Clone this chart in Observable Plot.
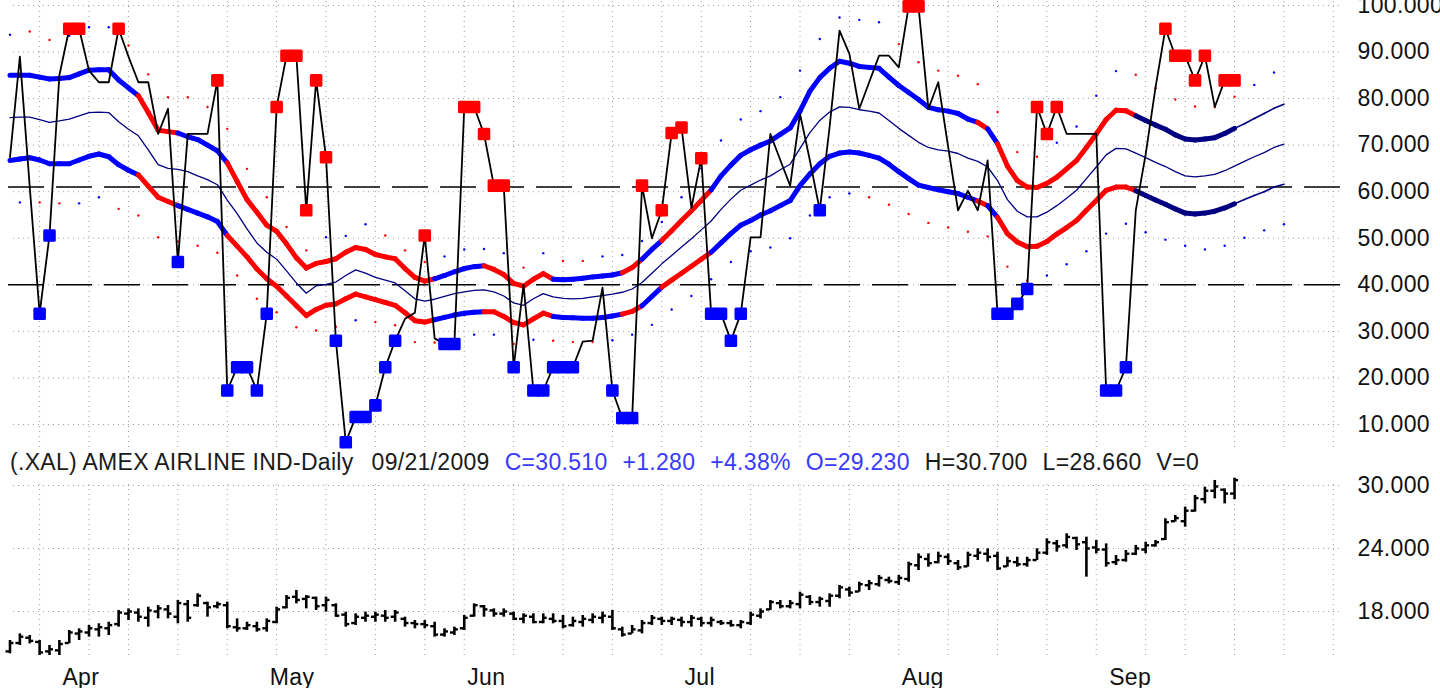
<!DOCTYPE html>
<html><head><meta charset="utf-8">
<script src="https://cdn.jsdelivr.net/npm/d3@7"></script>
<script src="https://cdn.jsdelivr.net/npm/@observablehq/plot@0.6"></script>
<style>
html,body{margin:0;padding:0;background:#fff;}
#wrap{position:relative;width:1440px;height:688px;overflow:hidden;font-family:"Liberation Sans",Arial,sans-serif;}
#top{position:absolute;left:0;top:0;}
#bot{position:absolute;left:0;top:450px;}
#info{position:absolute;left:10px;top:449px;font-size:23px;letter-spacing:0.3px;white-space:nowrap;line-height:26px;}
#info span{margin-right:15px;}
#info span.first{margin-right:18px;}
</style></head><body>
<div id="wrap"><div id="top"></div><div id="bot"></div><div id="info"></div></div>
<script>
// ---------- DATA ----------
// oscillator (daily, trading-day index 0 = 03/25/2009 ... 124 = 09/21/2009)
const osc = [67.4,89.0,61.0,33.8,50.6,85.0,95.0,95.0,86.0,83.5,
 83.5,95.0,89.0,83.5,83.5,72.4,77.8,44.9,72.4,72.4,
 72.4,83.9,17.3,22.3,22.3,17.3,33.8,78.2,89.2,89.2,
 56.0,83.9,67.4,28.0,6.2,11.6,11.6,14.1,22.3,28.0,
 32.7,34.0,50.6,28.5,27.3,27.3,78.2,78.2,72.4,61.3,
 61.3,22.3,40.0,17.3,17.3,22.3,22.3,22.3,27.8,28.0,
 39.4,17.3,11.4,11.4,61.3,50.0,56.0,72.6,73.8,56.5,
 67.2,33.8,33.8,28.0,33.8,50.2,50.2,72.4,66.8,61.3,
 76.7,66.7,56.0,74.0,94.6,89.6,77.8,83.5,89.2,89.2,
 86.7,99.8,99.8,77.8,83.5,69.6,56.0,60.2,56.0,66.7,
 33.8,33.8,35.9,39.1,78.2,72.4,78.2,72.4,72.4,72.4,
 72.4,17.3,17.3,22.3,56.0,68.0,82.4,95.0,89.2,89.2,
 83.9,89.2,78.2,83.9,83.9];
const redIdx = [6,7,11,21,27,28,29,30,31,32,42,46,47,48,49,50,64,66,67,68,70,91,92,104,105,106,117,118,119,120,121,123,124];
const blueIdx = [3,4,17,22,23,24,25,26,33,34,35,36,37,38,39,44,45,51,53,54,55,56,57,61,62,63,71,72,73,74,82,100,101,102,103,111,112,113];

// bands (index 0..129, projected 5 days past last bar)
const upperBand = [85.0,85.0,85.0,84.6,84.2,84.3,84.5,85.3,86.1,86.2,
 86.2,84.0,82.3,80.6,77.0,73.2,72.9,72.6,71.8,71.2,
 70.0,68.8,66.2,62.2,58.3,55.6,52.8,51.5,48.8,45.8,
 43.6,44.6,45.0,45.6,47.0,48.0,47.6,46.5,46.0,45.6,
 43.5,41.6,40.8,41.3,42.0,42.8,43.5,43.9,44.1,43.3,
 42.2,40.3,39.7,41.2,42.4,41.2,41.1,41.2,41.4,41.7,
 41.9,42.1,42.6,43.7,45.5,47.6,49.5,51.6,53.8,55.9,
 58.1,60.4,63.4,65.7,67.8,69.0,70.0,70.9,72.3,73.7,
 77.3,81.6,84.5,86.5,88.0,87.6,86.9,86.7,86.5,84.6,
 82.8,81.3,79.8,78.1,77.6,77.3,76.8,75.6,74.9,73.5,
 70.3,65.5,62.4,61.0,60.9,61.8,63.1,64.9,66.7,69.5,
 72.4,75.5,77.5,77.4,76.3,75.3,74.3,73.4,72.2,71.3,
 71.1,71.3,71.6,72.5,73.6,74.6,75.7,76.8,77.9,78.8];
const lowerBand = [66.7,67.0,67.3,66.8,66.0,66.0,66.0,66.8,67.6,68.1,
 67.5,65.8,64.6,63.6,61.2,58.8,57.9,57.0,56.2,55.4,
 54.6,53.6,50.6,48.3,46.0,43.4,41.3,39.7,37.6,35.5,
 33.4,34.7,35.6,35.9,37.0,38.0,37.4,36.8,36.2,35.6,
 34.0,32.3,32.0,32.5,33.0,33.5,33.9,34.1,34.2,34.2,
 33.2,31.9,31.4,32.7,33.9,33.2,33.0,32.9,32.8,32.8,
 33.0,33.3,33.7,34.3,35.5,37.5,39.5,41.0,42.5,44.0,
 45.5,47.0,49.0,51.0,52.8,53.8,55.0,55.9,57.0,58.1,
 61.3,63.8,66.0,67.6,68.3,68.5,68.3,67.8,67.2,65.9,
 64.3,62.8,61.4,60.9,60.4,60.0,59.6,58.8,58.0,57.0,
 54.5,51.0,49.2,48.2,48.3,49.3,50.9,52.3,53.8,56.0,
 58.1,60.3,61.0,61.0,60.2,59.2,58.2,57.3,56.3,55.4,
 55.2,55.4,55.8,56.5,57.4,58.3,59.2,60.0,61.0,61.6];
const midLine = [75.9,76.0,76.0,75.5,74.9,75.2,75.6,76.3,77.0,77.1,
 77.0,75.0,73.4,72.0,69.0,65.8,65.0,64.8,64.3,63.4,
 62.6,61.5,58.2,55.3,52.0,49.0,47.0,45.5,43.0,40.4,
 38.2,39.8,40.1,40.6,42.0,43.2,42.5,41.6,41.0,40.4,
 38.7,37.0,36.5,36.9,37.5,38.1,38.5,38.8,38.9,38.5,
 37.6,36.1,35.6,37.0,38.1,37.4,37.1,37.0,37.1,37.4,
 37.7,38.0,38.4,39.1,40.5,42.5,44.5,46.3,48.1,49.9,
 51.8,53.7,56.2,58.4,60.3,61.4,62.5,63.4,64.7,65.9,
 69.3,72.7,75.3,77.1,78.2,78.1,77.6,77.3,76.9,75.3,
 73.6,72.1,70.6,69.5,69.0,68.7,68.2,67.2,66.5,65.3,
 62.4,58.3,55.8,54.6,54.6,55.6,57.0,58.6,60.3,62.8,
 65.3,67.9,69.3,69.2,68.3,67.3,66.3,65.4,64.3,63.4,
 63.2,63.4,63.7,64.5,65.5,66.5,67.5,68.4,69.5,70.2];
// band state runs [from, to, state]
const bandRuns = [[0,13,"bull"],[13,17,"bear"],[17,22,"bull"],[22,43,"bear"],[43,48,"bull"],
 [48,55,"bear"],[55,62,"bull"],[62,64,"bear"],[64,66,"bull"],[66,71,"bear"],[71,98,"bull"],
 [98,99,"bear"],[99,100,"bull"],[100,114,"bear"],[114,124,"flat"],[124,129,"proj"]];

// small dots: upper (even indices 0..128), lower (odd indices 1..129)
const upperTiny = [93.7,94.4,92.6,93.5,95.3,95.3,91.4,85.2,80.3,80.3,
 78.2,73.5,64.9,58.8,52.4,47.4,50.2,50.5,53.0,50.6,
 47.4,44.9,46.1,47.6,47.7,46.8,43.7,46.8,45.1,45.1,
 46.1,46.4,49.4,53.5,58.8,65.0,71.0,75.5,77.3,80.3,
 86.0,92.8,97.4,96.9,96.4,91.7,87.8,86.0,84.9,83.1,
 77.1,68.5,67.5,70.5,74.0,80.6,85.9,85.1,82.2,79.8,
 78.3,78.2,80.4,82.9,85.6];
const upperTinyState = "brrbbbrrrrrrrrrrbbbrrrbbbbrbrrbbbbbbbbbbbbbbbrrrrrrrrbbbbrrrrrrbb";
const lowerTiny = [57.7,57.7,57.5,57.5,58.8,56.3,54.9,50.2,49.3,48.4,
 46.9,42.0,37.0,34.1,30.9,30.2,31.0,32.4,32.0,31.3,
 27.7,27.6,28.2,29.3,29.3,27.3,28.2,28.0,27.7,27.7,
 28.1,29.3,31.4,34.7,37.6,41.2,44.9,47.2,48.0,50.0,
 54.9,58.8,59.6,58.8,57.2,55.2,53.3,52.3,51.4,50.4,
 43.9,40.9,42.0,44.4,47.2,51.0,53.1,51.3,49.7,48.4,
 47.6,48.4,50.1,51.7,53.0];
const lowerTinyState = "brrbbrrrrrrrrrrrrbrrrrbbbrbrrrbbbbbbbbbbbbbrrrrrrrrrbbbbbbbbbbbbb";
const levels = [61, 40];
const oscTicks = [10,20,30,40,50,60,70,80,90,100];

// price bars (OHLC)
const high = [15.24,15.87,15.71,15.24,14.76,15.24,16.19,16.35,16.67,16.83,
 16.98,18.10,18.25,18.25,18.41,18.57,18.57,19.05,19.05,19.68,
 18.89,18.89,18.89,17.30,16.98,16.98,17.30,18.41,19.52,20.00,
 19.52,19.37,19.37,18.73,17.94,17.78,17.94,17.94,18.10,18.10,
 17.46,17.14,17.14,16.98,16.35,16.51,17.62,18.73,18.57,18.25,
 18.25,17.94,17.78,17.78,17.78,17.78,17.62,17.46,17.62,17.78,
 17.94,18.10,16.51,16.67,17.14,17.62,17.46,17.46,17.46,17.62,
 17.46,17.46,17.14,17.14,17.14,17.94,18.25,19.05,19.05,19.05,
 19.84,19.52,19.37,19.68,20.48,20.32,20.79,20.95,21.43,21.27,
 21.43,22.70,23.49,23.49,23.65,23.49,22.86,23.65,23.97,23.97,
 23.65,23.17,23.17,23.17,23.97,24.92,24.76,25.40,25.08,25.08,
 24.76,24.44,23.33,23.81,24.29,24.60,24.76,26.83,27.14,27.94,
 29.05,29.84,30.48,29.68,30.70];
const low = [13.97,14.76,14.92,13.81,13.81,13.81,14.92,15.24,15.56,15.56,
 15.71,16.51,17.14,16.98,16.51,17.30,17.30,16.83,16.98,18.41,
 17.46,18.25,16.35,16.03,16.19,16.03,16.03,16.83,18.25,18.73,
 18.25,18.10,17.94,17.46,16.51,16.67,16.98,16.98,16.98,16.98,
 16.51,16.35,16.35,15.56,15.56,15.71,16.19,17.46,17.46,17.46,
 17.46,17.14,16.83,16.83,16.83,16.83,16.35,16.51,16.51,16.83,
 16.83,16.19,15.56,15.87,15.87,16.67,16.67,16.67,16.51,16.51,
 16.51,16.51,16.67,16.51,16.35,16.67,17.30,18.10,18.25,18.25,
 18.25,18.57,18.41,18.41,19.21,19.37,19.84,20.00,20.32,20.63,
 20.48,20.79,21.90,22.22,22.54,22.38,21.90,22.22,22.86,22.70,
 21.90,22.22,22.22,22.22,22.86,23.33,23.65,23.97,23.81,21.27,
 23.49,22.22,22.38,22.70,23.33,23.49,24.13,24.76,26.51,26.03,
 27.46,28.25,28.73,28.25,28.66];
const open = [14.2,15.0,15.5,15.1,14.2,14.3,15.0,15.9,16.0,16.3,
 16.4,16.8,17.8,17.9,17.4,18.0,18.2,17.5,18.7,18.6,
 18.8,18.5,18.6,16.5,16.4,16.6,16.4,17.0,18.4,19.4,
 19.2,19.3,18.6,18.6,17.7,16.9,17.4,17.5,17.6,17.5,
 17.3,16.9,16.8,16.6,15.8,16.0,16.4,17.6,18.5,18.1,
 17.8,17.8,17.3,17.5,17.0,17.3,17.1,16.7,17.0,17.2,
 17.4,17.5,16.3,15.9,16.2,16.9,17.3,17.1,17.2,17.0,
 17.3,16.9,17.0,16.9,16.7,16.9,17.6,18.2,18.8,18.5,
 18.7,19.4,18.9,19.0,19.5,20.1,19.9,20.5,20.6,21.0,
 20.8,21.1,22.4,23.0,22.7,23.2,22.6,22.3,23.3,23.5,
 23.3,22.3,22.7,22.5,22.9,23.6,24.5,24.3,25.0,24.6,
 24.1,23.9,22.7,22.9,23.5,23.9,24.3,24.9,26.6,26.6,
 27.6,28.7,29.5,29.6,29.23];
const close = [15.0,15.6,15.2,14.1,14.4,14.9,16.0,16.1,16.4,16.5,
 16.7,17.9,18.0,17.5,18.1,18.3,17.8,18.8,17.4,19.5,
 18.4,18.7,16.6,16.4,16.7,16.3,17.1,18.2,19.3,19.1,
 19.4,18.5,19.1,17.6,16.8,17.5,17.6,17.7,17.4,17.9,
 16.9,16.8,16.7,15.8,16.1,16.3,17.4,18.6,18.2,17.8,
 18.0,17.3,17.6,17.0,17.4,17.1,16.6,17.1,17.3,17.5,
 17.6,16.4,15.8,16.3,16.9,17.4,17.1,17.3,17.0,17.4,
 16.9,17.2,16.9,16.7,17.0,17.7,18.0,18.9,18.5,18.8,
 19.6,18.9,19.2,19.5,20.3,19.8,20.6,20.7,21.2,20.9,
 21.2,22.5,23.2,22.6,23.3,22.8,22.2,23.4,23.6,23.2,
 22.1,22.8,22.5,22.9,23.6,24.6,24.2,25.1,24.4,24.0,
 23.9,22.6,22.9,23.5,24.0,24.3,24.6,26.5,26.9,27.6,
 28.8,29.5,29.9,29.23,30.51];
const priceTicks = [18, 24, 30];

// calendar: weekly grid (first trading day of each week) and month starts
const weekIdx = [3,8,12,17,22,27,32,37,42,46,51,56,61,66,70,75,80,85,90,95,100,105,110,115,119,124,129,134];
const monthIdx = [5,26,46,68,90,111];
const monthNames = ["Apr","May","Jun","Jul","Aug","Sep"];

const infoParts = [["(.XAL) AMEX AIRLINE IND-Daily","plain"],["09/21/2009","plain"],["C=30.510","quote"],
 ["+1.280","quote"],["+4.38%","quote"],["O=29.230","quote"],["H=30.700","plain"],["L=28.660","plain"],["V=0","plain"]];

// ---------- STYLE ----------
const stateColor = {bull:"#0000ff", bear:"#ff0000", flat:"#000080", proj:"#000080"};
const dotColor = {r:"#ff0000", b:"#0000ff"};
const xDomain = [-0.962, 134.73];
const common = {
  width: 1440, marginLeft: 0, marginRight: 100,
  color: {type: "identity"},
  style: {fontFamily: "'Liberation Sans', Arial, sans-serif", fontSize: "23px", letterSpacing: "0.35px",
          color: "#111", background: "transparent", overflow: "visible"}
};
const grid = {stroke: "#9c9c9c", strokeDasharray: "1,4", strokeWidth: 1};

// ---------- TOP PANEL ----------
const nB = upperBand.length;
const stateAt = i => { for (const [a,b,s] of bandRuns) if (i >= a && i < b) return s; return "proj"; };
const segs = d3.range(nB - 1).map(i => ({i, s: stateAt(i)}));
const thick = segs.filter(d => d.s !== "proj");
const thin = segs.filter(d => d.s === "proj");
const tinyRows = upperTiny.map((v,k) => ({i: 2*k, v, c: dotColor[upperTinyState[k]]}))
  .concat(lowerTiny.map((v,k) => ({i: 2*k+1, v, c: dotColor[lowerTinyState[k]]})));
const idx = d3.range(osc.length);
const bandLink = (arr, data, w) => Plot.link(data, {
  x1: d => d.i, x2: d => d.i + 1, y1: d => arr[d.i], y2: d => arr[d.i + 1],
  stroke: d => stateColor[d.s], strokeWidth: w, strokeLinecap: "round"});
const bigDot = (list, color) => Plot.dot(list, {x: d => d, y: d => osc[d], symbol: "square", r: 5.4,
  fill: color, stroke: color, strokeWidth: 3, strokeLinejoin: "round"});

const topChart = Plot.plot({
  ...common, height: 450, marginTop: 0, marginBottom: 0,
  x: {domain: xDomain, axis: null},
  y: {domain: [4.416, 101.06], axis: "right", ticks: oscTicks, tickFormat: d3.format(".3f"),
      tickSize: 0, tickPadding: 17, label: null},
  marks: [
    Plot.ruleY(oscTicks, {y: d => d, x1: 0.35, x2: 134.73, ...grid}),
    Plot.ruleX(weekIdx, {x: d => d, y1: 5.06, y2: 101.06, ...grid}),
    Plot.ruleY(levels, {y: d => d, x1: -0.15, x2: 134.73, stroke: "#000", strokeWidth: 1.6, strokeDasharray: "36,12"}),
    Plot.dot(tinyRows, {x: "i", y: "v", r: 1.2, fill: "c", stroke: null}),
    Plot.line(d3.range(nB), {x: d => d, y: d => midLine[d], stroke: "#000080", strokeWidth: 1.3}),
    bandLink(upperBand, thin, 1.6), bandLink(lowerBand, thin, 1.6),
    bandLink(upperBand, thick, 5), bandLink(lowerBand, thick, 5),
    Plot.line(idx, {x: d => d, y: d => osc[d], stroke: "#000", strokeWidth: 1.8}),
    bigDot(blueIdx, "#0000ff"),
    bigDot(redIdx, "#ff0000")
  ]
});
document.getElementById("top").appendChild(topChart);

// ---------- BOTTOM PANEL ----------
const bars = d3.range(close.length);
const botChart = Plot.plot({
  ...common, height: 238, marginTop: 0, marginBottom: 31,
  x: {domain: xDomain, axis: null},
  y: {domain: [13.619, 33.333], axis: "right", ticks: priceTicks, tickFormat: d3.format(".3f"),
      tickSize: 0, tickPadding: 17, label: null},
  marks: [
    Plot.ruleY(priceTicks, {y: d => d, x1: 0.35, x2: 134.73, ...grid}),
    Plot.ruleX(weekIdx, {x: d => d, y1: 13.8, y2: 30.3, ...grid}),
    Plot.ruleX(bars, {x: d => d, y1: d => low[d], y2: d => high[d], stroke: "#000", strokeWidth: 2.6}),
    Plot.ruleY(bars, {y: d => open[d], x1: d => d - 0.4, x2: d => d, stroke: "#000", strokeWidth: 2.4}),
    Plot.ruleY(bars, {y: d => close[d], x1: d => d, x2: d => d + 0.4, stroke: "#000", strokeWidth: 2.4}),
    Plot.text(monthIdx, {x: d => d, frameAnchor: "bottom", dy: 27, dx: 3, textAnchor: "start",
      text: (d, i) => monthNames[i], fill: "#111"})
  ]
});
document.getElementById("bot").appendChild(botChart);

// ---------- INFO LINE ----------
const info = document.getElementById("info");
infoParts.forEach(([t, kind], k) => {
  const s = document.createElement("span");
  s.textContent = t;
  s.style.color = kind === "quote" ? "#3a3aff" : "#1a1a1a";
  if (k === 0) s.className = "first";
  info.appendChild(s);
});
</script>
</body></html>
